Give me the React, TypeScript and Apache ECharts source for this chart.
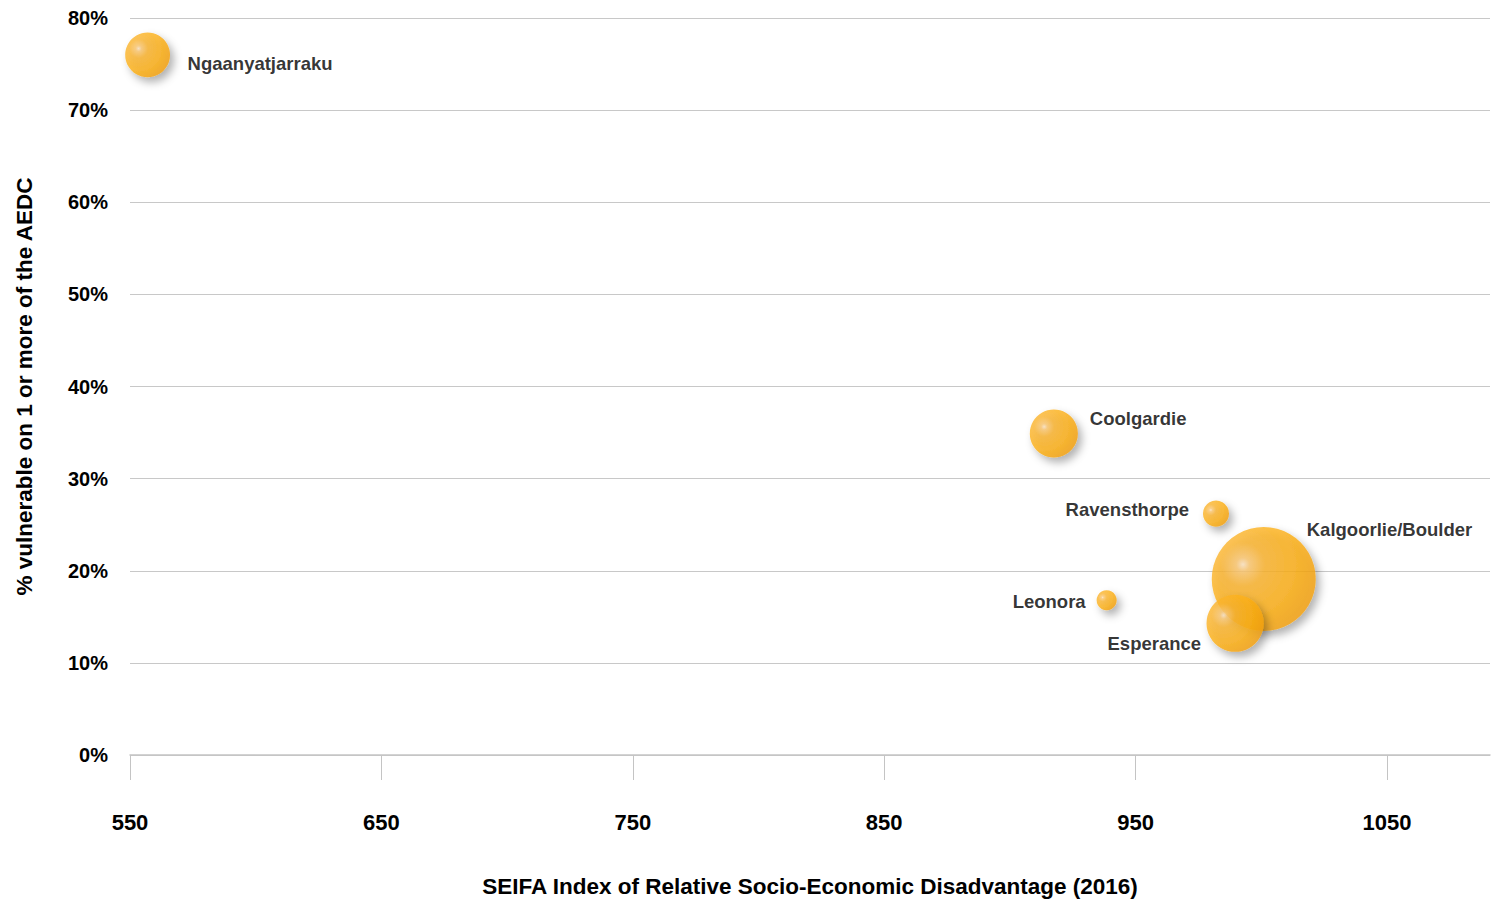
import React, { useEffect, useRef } from "react";
import * as echarts from "echarts";

// Local government areas, SEIFA IRSD score (2016), share of children developmentally
// vulnerable on one or more AEDC domains, and number of children (bubble size).
const areas = ["Ngaanyatjarraku", "Coolgardie", "Ravensthorpe", "Leonora", "Kalgoorlie/Boulder", "Esperance"];
const seifaScores = [557, 917.5, 982, 938.5, 1001, 989.6];
const vulnerablePct = [76, 34.9, 26.2, 16.8, 19.1, 14.3];
const childCounts = [80, 92, 27, 16, 430, 130];

const xTicks = [550, 650, 750, 850, 950, 1050];
const yTicks = [0, 10, 20, 30, 40, 50, 60, 70, 80];

// Where each area's name sits relative to its bubble centre.
const labelPlacement: Record<string, { align: "left" | "right"; offset: [number, number] }> = {
  Ngaanyatjarraku: { align: "left", offset: [40, 9] },
  Coolgardie: { align: "left", offset: [36, -15] },
  Ravensthorpe: { align: "right", offset: [-27, -4] },
  Leonora: { align: "right", offset: [-21, 1] },
  "Kalgoorlie/Boulder": { align: "left", offset: [43, -50] },
  Esperance: { align: "right", offset: [-34, 20] },
};

const FONT = "'Liberation Sans', Arial, Helvetica, sans-serif";

// Glossy orange ball: pale highlight up-left, saturated body, deeper rim.
const bubbleFill = {
  type: "radial",
  x: 0.3,
  y: 0.36,
  r: 0.8,
  colorStops: [
    { offset: 0, color: "#fde3c0" },
    { offset: 0.08, color: "#fcc770" },
    { offset: 0.26, color: "#fbb42e" },
    { offset: 0.6, color: "#fdb016" },
    { offset: 1, color: "#f29d09" },
  ],
};

export default function App() {
  const ref = useRef<HTMLDivElement>(null);

  useEffect(() => {
    if (!ref.current) return;
    const chart = echarts.init(ref.current, undefined, { renderer: "svg" });

    const points = areas.map((name, i) => {
      const p = labelPlacement[name];
      return {
        name,
        value: [seifaScores[i], vulnerablePct[i], childCounts[i]],
        label: {
          show: true,
          position: "inside",
          formatter: name,
          align: p.align,
          verticalAlign: "middle",
          offset: p.offset,
          color: "#000",
          fontFamily: FONT,
          fontWeight: "bold",
          fontSize: 18.5,
        },
      };
    });

    chart.setOption({
      animation: false,
      backgroundColor: "#ffffff",
      grid: {
        left: 130,
        right: 4,
        top: 18,
        bottom: 144,
        containLabel: false,
        outerBoundsMode: "none",
      },
      xAxis: {
        type: "value",
        min: 550,
        max: 1091,
        interval: 100,
        name: "SEIFA Index of Relative Socio-Economic Disadvantage (2016)",
        nameLocation: "middle",
        nameGap: 120,
        nameTextStyle: { fontFamily: FONT, fontWeight: "bold", fontSize: 22.5, color: "#000" },
        axisLine: { show: true, lineStyle: { color: "#c4c4c4", width: 1.5 } },
        axisTick: { show: true, length: 25, customValues: xTicks, lineStyle: { color: "#c4c4c4", width: 1 } },
        axisLabel: {
          customValues: xTicks,
          margin: 56,
          formatter: (v: number) => String(v),
          fontFamily: FONT,
          fontWeight: "bold",
          fontSize: 22,
          color: "#000",
        },
        splitLine: { show: false },
      },
      yAxis: {
        type: "value",
        min: 0,
        max: 80,
        interval: 10,
        name: "% vulnerable on 1 or more of the AEDC",
        nameLocation: "middle",
        nameGap: 94,
        nameTextStyle: { fontFamily: FONT, fontWeight: "bold", fontSize: 22.5, color: "#000" },
        axisLine: { show: false },
        axisTick: { show: false },
        axisLabel: {
          customValues: yTicks,
          margin: 22,
          formatter: (v: number) => v + "%",
          fontFamily: FONT,
          fontWeight: "bold",
          fontSize: 20,
          color: "#000",
        },
        splitLine: { show: true, lineStyle: { color: "#c8c8c8", width: 1 } },
      },
      series: [
        {
          type: "scatter",
          data: points,
          symbol: "circle",
          symbolSize: (v: number[]) => 5.015 * Math.sqrt(v[2]),
          itemStyle: {
            color: bubbleFill,
            shadowBlur: 8,
            shadowOffsetX: 4,
            shadowOffsetY: 5,
            shadowColor: "rgba(0,0,0,0.38)",
          },
          emphasis: { disabled: true },
        },
      ],
    });

    return () => chart.dispose();
  }, []);

  return (
    <div
      ref={ref}
      style={{ position: "fixed", left: 0, top: 0, width: 1494, height: 899, background: "#fff" }}
    />
  );
}
